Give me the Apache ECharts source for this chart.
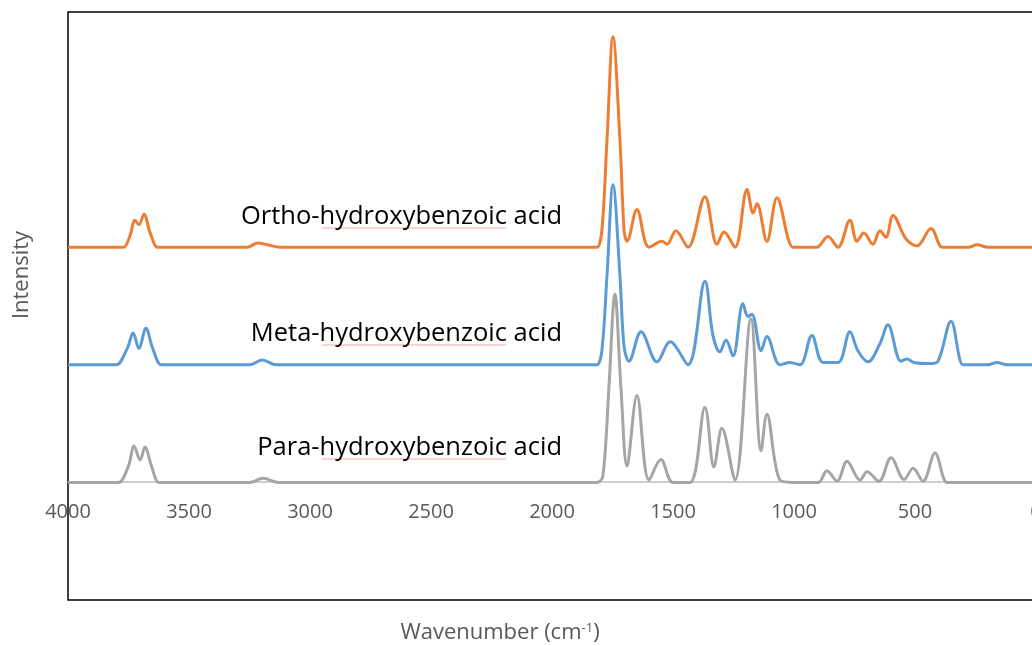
<!DOCTYPE html>
<html>
<head>
<meta charset="utf-8">
<script src="https://cdn.jsdelivr.net/npm/echarts@6/dist/echarts.min.js"></script>
<style>
    html, body { margin: 0; padding: 0; background: #fff; }
    #chart { width: 1032px; height: 646px; }
</style>
</head>
<body>
<div id="chart"></div>
<script>
// points are [wavenumber, intensity above own baseline]
const orthoPts = [
    [4000, 0], [3790, 0], [3770, 0], [3745, 0.09], [3723, 0.23], [3707, 0.19], [3686, 0.28], [3660, 0.12], [3630, 0], [3605, 0],
    [3280, 0], [3260, 0], [3215, 0.035], [3174, 0.02], [3124, 0], [3100, 0],
    [1835, 0], [1814, 0], [1794, 0.14], [1773, 0.9], [1748, 1.79], [1719, 0.9], [1702, 0.14], [1690, 0.05],
    [1649, 0.32], [1599, 0], [1545, 0.05], [1525, 0.025], [1488, 0.14], [1438, 0],
    [1368, 0.43], [1318, 0.025], [1289, 0.13], [1244, 0],
    [1194, 0.49], [1169, 0.29], [1153, 0.37], [1112, 0.05], [1070, 0.42], [1004, 0], [980, 0],
    [925, 0], [905, 0], [860, 0.09], [818, 0], [769, 0.23], [740, 0.05], [711, 0.12], [674, 0.025],
    [645, 0.14], [620, 0.085], [591, 0.27], [537, 0.07], [492, 0.01], [434, 0.16], [388, 0], [365, 0],
    [280, 0], [244, 0.02], [200, 0], [0, 0]
];
const metaPts = [
    [4000, 0], [3820, 0], [3800, 0], [3755, 0.14], [3731, 0.27], [3707, 0.14], [3678, 0.31], [3650, 0.14], [3615, 0], [3595, 0],
    [3270, 0], [3250, 0], [3198, 0.04], [3140, 0], [3120, 0],
    [1835, 0], [1814, 0], [1794, 0.12], [1773, 0.75], [1748, 1.53], [1719, 0.75], [1702, 0.15], [1682, 0.03],
    [1632, 0.28], [1566, 0.025], [1512, 0.195], [1438, 0],
    [1368, 0.71], [1335, 0.25], [1306, 0.11], [1281, 0.21], [1252, 0.075],
    [1211, 0.52], [1190, 0.41], [1174, 0.43], [1136, 0.12], [1112, 0.24], [1058, 0],
    [1017, 0.02], [975, 0], [926, 0.25], [880, 0.02], [818, 0.02], [769, 0.28], [736, 0.12], [694, 0.025],
    [645, 0.18], [612, 0.34], [558, 0.03], [533, 0.05], [505, 0.02], [440, 0.01], [405, 0.03],
    [351, 0.37], [302, 0], [280, 0], [200, 0], [161, 0.02], [120, 0], [0, 0]
];
const paraPts = [
    [4000, 0], [3810, 0], [3790, 0], [3750, 0.14], [3727, 0.31], [3702, 0.19], [3682, 0.30], [3655, 0.14], [3625, 0], [3605, 0],
    [3270, 0], [3250, 0], [3194, 0.035], [3130, 0], [3110, 0],
    [1835, 0], [1814, 0], [1790, 0.05], [1765, 0.8], [1740, 1.60], [1715, 0.8], [1690, 0.14],
    [1649, 0.74], [1599, 0.02], [1550, 0.195], [1500, 0], [1430, 0],
    [1368, 0.64], [1331, 0.13], [1298, 0.46], [1244, 0.02],
    [1178, 1.39], [1136, 0.27], [1112, 0.58], [1058, 0.02], [1004, 0], [900, 0],
    [864, 0.10], [822, 0.01], [781, 0.18], [727, 0.02], [698, 0.09], [649, 0.01],
    [599, 0.21], [545, 0.025], [508, 0.12], [467, 0.01], [417, 0.25], [368, 0], [340, 0], [0, 0]
];
const seriesNames = ['Ortho-hydroxybenzoic acid', 'Meta-hydroxybenzoic acid', 'Para-hydroxybenzoic acid'];
const offsets = [2, 1, 0];
const colors = ['#ED7D31', '#5B9BD5', '#A5A5A5'];
const xTickStep = 500;

let chart = echarts.init(document.getElementById('chart'));
let allPts = [orthoPts, metaPts, paraPts];

let series = allPts.map(function (pts, i) {
    return {
        name: seriesNames[i],
        type: 'line',
        showSymbol: false,
        smooth: 0.35,
        animation: false,
        lineStyle: { color: colors[i], width: 3 },
        data: pts.map(function (p) { return [p[0], p[1] + offsets[i]]; })
    };
});

let labelY = [217, 334, 448];
let graphics = [];
seriesNames.forEach(function (name, i) {
    // faint spell-check squiggle under "hydroxybenzoic", as in the source figure
    graphics.push({
        type: 'line',
        shape: { x1: 322, y1: labelY[i] + 11, x2: 506, y2: labelY[i] + 11 },
        style: { stroke: '#F2A7A7', lineWidth: 1 }
    });
    graphics.push({
        type: 'text',
        x: 562,
        y: labelY[i],
        style: {
            text: name,
            align: 'right',
            verticalAlign: 'middle',
            fill: '#000',
            font: '25.5px "Open Sans", sans-serif'
        }
    });
});
graphics.push({
    type: 'text',
    x: 22,
    y: 275,
    rotation: Math.PI / 2,
    style: {
        text: 'Intensity',
        align: 'center',
        verticalAlign: 'middle',
        fill: '#595959',
        font: '22px "Open Sans", sans-serif'
    }
});
graphics.push({
    type: 'text',
    x: 500,
    y: 633,
    style: {
        text: '{a|Wavenumber (cm}{s|-1}{a|)}',
        align: 'center',
        verticalAlign: 'middle',
        fill: '#595959',
        rich: {
            a: { fontSize: 22, fontFamily: 'Open Sans', fill: '#595959' },
            s: { fontSize: 13, fontFamily: 'Open Sans', fill: '#595959', verticalAlign: 'top', padding: [0, 0, 10, 0] }
        }
    }
});

let option = {
    animation: false,
    grid: {
        left: 68,
        top: 12,
        width: 968,
        height: 588,
        show: true,
        borderColor: '#000',
        borderWidth: 1.5,
        containLabel: false,
        outerBoundsMode: 'none'
    },
    xAxis: {
        type: 'value',
        inverse: true,
        min: 0,
        max: 4000,
        interval: xTickStep,
        // axis sits on the para baseline (value 0), 118 px above the grid bottom
        offset: -118,
        axisLine: { onZero: false, lineStyle: { color: '#BFBFBF', width: 1.5 } },
        axisTick: { show: false },
        splitLine: { show: false },
        axisLabel: {
            margin: 20,
            color: '#595959',
            fontSize: 20,
            fontFamily: 'Open Sans',
            formatter: function (v) { return String(v); }
        }
    },
    yAxis: {
        type: 'value',
        min: -1,
        max: 4,
        axisLine: { show: false },
        axisTick: { show: false },
        axisLabel: { show: false },
        splitLine: { show: false }
    },
    series: series,
    graphic: graphics
};
chart.setOption(option, true);
</script>
</body>
</html>
